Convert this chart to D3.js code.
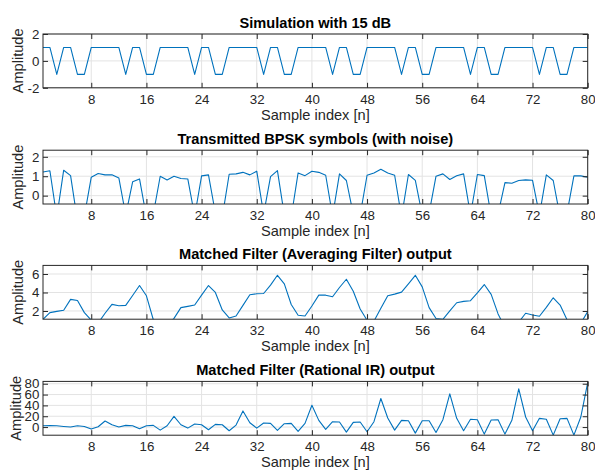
<!DOCTYPE html>
<html><head><meta charset="utf-8">
<script src="https://cdn.jsdelivr.net/npm/d3@7"></script>
<style>
html,body{margin:0;padding:0;background:#fff;}
svg{display:block;font-family:"Liberation Sans",Arial,Helvetica,sans-serif;}
</style></head>
<body>
<svg id="chart" width="595" height="471"></svg>
<script>
// ---- data ----
const sampleIndex = d3.range(1, 81);
const xTicks = [8, 16, 24, 32, 40, 48, 56, 64, 72, 80];
const titles = ["Simulation with 15 dB", "Transmitted BPSK symbols (with noise)",
  "Matched Filter (Averaging Filter) output", "Matched Filter (Rational IR) output"];
const xLabel = "Sample index [n]";
const yLabel = "Amplitude";

const symbols = [1,1,-1,1,1,-1,-1,1,1,1, 1,1,-1,1,1,-1,-1,1,1,1, 1,1,-1,1,1,-1,-1,1,1,1, 1,1,-1,1,1,-1,-1,1,1,1,
  1,1,-1,1,1,-1,-1,1,1,1, 1,1,-1,1,1,-1,-1,1,1,1, 1,1,-1,1,1,-1,-1,1,1,1, 1,1,-1,1,1,-1,-1,1,1,1];

const noisySymbols = [1.22,1.28,-1.1,1.31,1.03,-1.3,-1.05,0.95,1.14,1.07,
  1.07,0.91,-1.0,0.71,0.86,-1.1,-0.95,1.0,0.81,1.0,
  0.88,0.86,-1.05,1.02,1.07,-0.9,-1.1,1.1,1.12,1.2,
  1.07,1.26,-0.95,0.98,1.29,-1.0,-1.1,1.17,1.03,1.26,
  1.2,1.05,-1.05,1.12,0.78,-0.95,-1.0,1.05,1.17,1.36,
  1.17,1.05,-1.1,1.09,0.79,-1.0,-0.9,1.0,1.12,0.83,
  1.02,1.12,-1.0,1.09,1.03,-1.05,-0.95,0.67,0.64,0.78,
  0.81,0.79,-1.0,1.07,0.78,-1.1,-0.9,1.02,1.02,0.95];

const avgOutput = [1.1,1.82,1.96,2.07,3.25,3.14,1.82,1.0,0.7,1.75,
  2.71,2.57,2.61,3.68,4.75,3.64,1.05,0.4,0.4,1.2,
  2.36,2.5,2.64,3.71,4.75,4.0,2.11,1.25,1.46,2.61,
  3.75,3.86,3.89,4.79,5.86,4.93,2.7,1.54,1.46,2.54,
  3.71,3.71,3.54,4.54,5.43,4.14,2.21,1.0,0.9,2.3,
  3.64,3.82,4.04,4.93,5.86,4.61,2.36,1.18,1.1,2.0,
  2.89,3.04,3.11,3.96,4.86,3.79,1.68,0.2,0.3,0.79,
  1.75,1.57,1.43,2.39,3.43,2.64,1.05,0.4,0.67,1.93];

const rationalOutput = [2.5,3.0,2.5,1.2,0.0,2.5,1.2,-3.7,0.6,11.2,
  4.3,0.0,3.1,2.5,-3.1,2.5,3.1,-5.6,2.5,19.8,
  4.3,-1.9,5.6,4.3,-5.0,5.0,4.3,-6.8,3.7,29.8,
  8.0,-1.9,7.4,6.8,-6.2,6.2,6.8,-7.8,6.8,40.3,
  12.4,-4.3,9.9,9.3,-9.3,8.7,9.3,-8.7,9.9,52.7,
  16.7,-5.6,12.4,11.8,-11.2,11.8,11.8,-9.9,13.6,61.4,
  16.1,-6.8,14.3,13.6,-13.0,13.0,13.6,-13.0,12.4,70.7,
  18.6,-6.8,16.1,14.3,-14.9,15.5,16.1,-14.9,18.6,81.9];

const panelSeries = [symbols, noisySymbols, avgOutput, rationalOutput];
const panelYDomains = [[-2, 2], [-0.43, 2.34], [1.11, 6.93], [-15, 84.3]];
const panelYTicks = [[-2, 0, 2], [0, 1, 2], [2, 4, 6], [0, 20, 40, 60, 80]];

// ---- layout ----
const svg = d3.select("#chart");
const left = 43, right = 587.7, h = 53.8;
const tops = [34, 150.2, 265.4, 381.4];
const axisColor = "#262626", gridColor = "#e3e3e3", lineColor = "#0072BD";
const tickFont = 13.3, labelFont = 14.6;
const x = d3.scaleLinear().domain([1, 80]).range([left, right]);
const fmt = d => String(d);

panelSeries.forEach((data, i) => {
  const top = tops[i], bottom = top + h;
  const y = d3.scaleLinear().domain(panelYDomains[i]).range([bottom, top]);
  const g = svg.append("g");

  // grid
  g.append("g").selectAll("line").data(xTicks).join("line")
    .attr("x1", d => x(d)).attr("x2", d => x(d)).attr("y1", top).attr("y2", bottom)
    .attr("stroke", gridColor).attr("stroke-width", 1);
  g.append("g").selectAll("line").data(panelYTicks[i]).join("line")
    .attr("x1", left).attr("x2", right).attr("y1", d => y(d)).attr("y2", d => y(d))
    .attr("stroke", gridColor).attr("stroke-width", 1);

  // clip + line
  const cid = "clip" + i;
  svg.append("clipPath").attr("id", cid).append("rect")
    .attr("x", left).attr("y", top).attr("width", right - left).attr("height", h);
  const line = d3.line().x((d, k) => x(sampleIndex[k])).y(d => y(d));
  g.append("path").datum(data).attr("d", line).attr("clip-path", `url(#${cid})`)
    .attr("fill", "none").attr("stroke", lineColor).attr("stroke-width", 1.1)
    .attr("stroke-linejoin", "round");

  // axes
  const styleAxis = sel => {
    sel.select(".domain").remove();
    sel.selectAll(".tick line").attr("stroke", axisColor);
    sel.selectAll(".tick text").attr("fill", axisColor)
      .style("font-size", tickFont + "px").style("font-family", "'Liberation Sans', Arial, sans-serif");
  };
  g.append("g").attr("transform", `translate(0,${bottom})`)
    .call(d3.axisBottom(x).tickValues(xTicks).tickSize(-5).tickPadding(6.8).tickFormat(fmt)).call(styleAxis);
  g.append("g").attr("transform", `translate(0,${top})`)
    .call(d3.axisTop(x).tickValues(xTicks).tickSize(-5).tickFormat("")).call(styleAxis);
  g.append("g").attr("transform", `translate(${left},0)`)
    .call(d3.axisLeft(y).tickValues(panelYTicks[i]).tickSize(-5).tickPadding(3.6).tickFormat(fmt)).call(styleAxis);
  g.append("g").attr("transform", `translate(${right},0)`)
    .call(d3.axisRight(y).tickValues(panelYTicks[i]).tickSize(-5).tickFormat("")).call(styleAxis);

  // box
  g.append("rect").attr("x", left).attr("y", top).attr("width", right - left).attr("height", h)
    .attr("fill", "none").attr("stroke", axisColor).attr("stroke-width", 1);

  // title
  g.append("text").attr("x", (left + right) / 2).attr("y", top - 6.5)
    .attr("text-anchor", "middle").attr("font-weight", "bold").attr("fill", "#000")
    .style("font-size", labelFont + "px").text(titles[i]);
  // x label
  g.append("text").attr("x", (left + right) / 2).attr("y", bottom + 32)
    .attr("text-anchor", "middle").attr("fill", axisColor)
    .style("font-size", labelFont + "px").text(xLabel);
  // y label
  g.append("text").attr("transform", `translate(${i === 3 ? 20.5 : 22.5},${(top + bottom) / 2}) rotate(-90)`)
    .attr("text-anchor", "middle").attr("fill", axisColor)
    .style("font-size", labelFont + "px").text(yLabel);
});
</script>
</body></html>
